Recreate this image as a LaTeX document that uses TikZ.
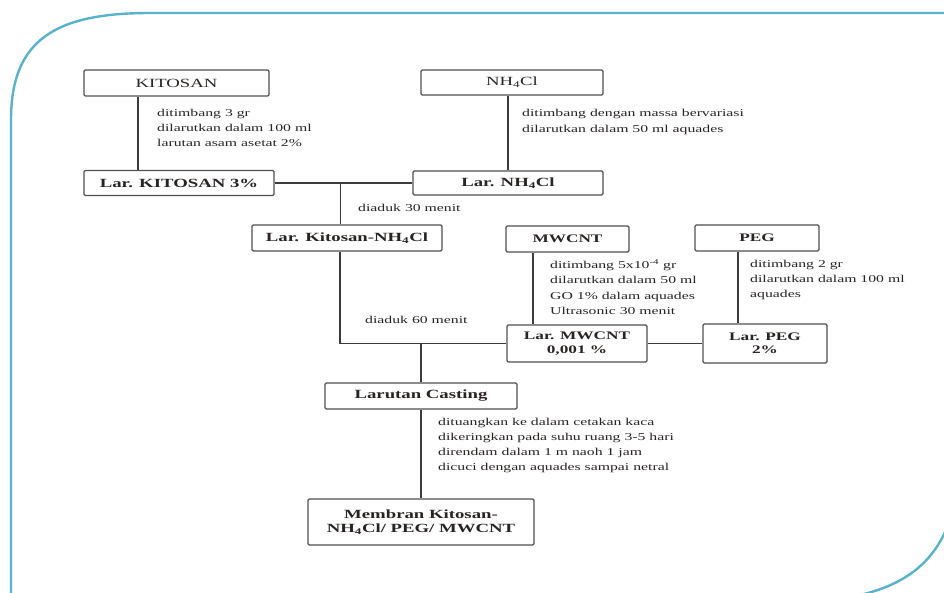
\documentclass[tikz,border=0pt]{standalone}
\usepackage{fontspec}
\setmainfont{Liberation Serif}[FakeStretch=1.5]
\definecolor{framec}{RGB}{88,178,204}
\definecolor{linec}{RGB}{60,60,60}
\definecolor{txtc}{RGB}{40,36,34}
\begin{document}
\begin{tikzpicture}[x=1pt,y=-1pt,
  bx/.style={draw=linec!90, line width=1.3pt, rounded corners=1.2pt, fill=white, inner sep=0pt,
    text=txtc, align=center, font=\fontsize{12.5}{14}\selectfont\bfseries},
  bxr/.style={bx, font=\fontsize{12.5}{14}\selectfont},
  bxs/.style={bx, font=\fontsize{11.5}{13.5}\selectfont\bfseries},
  ann/.style={anchor=west, align=left, inner sep=0pt, text=txtc, font=\fontsize{10.5}{15.3}\selectfont},
  cn/.style={draw=linec, line width=1.1pt}]
\useasboundingbox (0,0) rectangle (944,593);
% frame
\draw[framec, line width=2.4pt] (11,600) -- (11,120) .. controls (11,40) and (55,13) .. (150,13) -- (950,13);
\draw[framec, line width=2.4pt] (946,530) .. controls (930,566) and (900,588) .. (850,597);
% boxes
\node[bxr, minimum width=185pt, minimum height=26pt] (kit) at (176.5,83) {KITOSAN};
\node[bx, minimum width=190pt, minimum height=25pt] (larkit) at (179,183) {Lar. KITOSAN 3\%};
\node[bxr, minimum width=182pt, minimum height=25pt] (nh) at (512,82.5) {NH\textsubscript{4}Cl};
\node[bx, minimum width=190pt, minimum height=24pt] (larnh) at (508,183) {Lar. NH\textsubscript{4}Cl};
\node[bx, minimum width=190pt, minimum height=26pt] (larkn) at (347,238) {Lar. Kitosan-NH\textsubscript{4}Cl};
\node[bxs, minimum width=123pt, minimum height=26pt] (mw) at (567.5,239) {MWCNT};
\node[bxs, minimum width=140pt, minimum height=37pt] (larmw) at (577,343.5) {Lar. MWCNT\\0,001 \%};
\node[bxs, minimum width=124pt, minimum height=26pt] (peg) at (757,238) {PEG};
\node[bxs, minimum width=124pt, minimum height=39pt] (larpeg) at (765,343.5) {Lar. PEG\\2\%};
\node[bx, minimum width=192pt, minimum height=26pt] (cast) at (421,396) {Larutan Casting};
\node[bx, minimum width=226pt, minimum height=46pt] (mem) at (421,522) {Membran Kitosan-\\NH\textsubscript{4}Cl/ PEG/ MWCNT};
% annotations
\node[ann] (t1) at (157,128) {ditimbang 3 gr\\dilarutkan dalam 100 ml\\larutan asam asetat 2\%};
\node[ann] (t2) at (522,122) {ditimbang dengan massa bervariasi\\dilarutkan dalam 50 ml aquades};
\node[ann] (t3) at (358,208) {diaduk 30 menit};
\node[ann] (t4) at (365,320) {diaduk 60 menit};
\node[ann] (t5) at (550,287) {ditimbang 5x10\textsuperscript{-4} gr\\dilarutkan dalam 50 ml\\GO 1\% dalam aquades\\Ultrasonic 30 menit};
\node[ann] (t6) at (750,280) {ditimbang 2 gr\\dilarutkan dalam 100 ml\\aquades};
\node[ann] (t7) at (438,445.5) {dituangkan ke dalam cetakan kaca\\dikeringkan pada suhu ruang 3-5 hari\\direndam dalam 1 m naoh 1 jam\\dicuci dengan aquades sampai netral};
% connectors
\draw[cn] ([xshift=-38.5pt]kit.south) -- ([xshift=-41pt]larkit.north);
\draw[cn] ([xshift=-4pt]nh.south) -- (larnh.north);
\draw[cn] (larkit.east) -- coordinate[pos=0.48] (j1) (larnh.west);
\draw[cn] (j1) -- (larkn.north -| j1);
\draw[cn] ([xshift=-7pt]larkn.south) |- (larmw.west);
\coordinate (j2) at (cast.north |- larmw.west);
\draw[cn] (j2) -- (cast.north);
\draw[cn] ([xshift=-34.5pt]mw.south) -- ([xshift=-44pt]larmw.north);
\draw[cn] ([xshift=-19pt]peg.south) -- ([xshift=-27pt]larpeg.north);
\draw[cn] (larmw.east) -- (larpeg.west);
\draw[cn] (cast.south) -- (mem.north);
\end{tikzpicture}
\end{document}
